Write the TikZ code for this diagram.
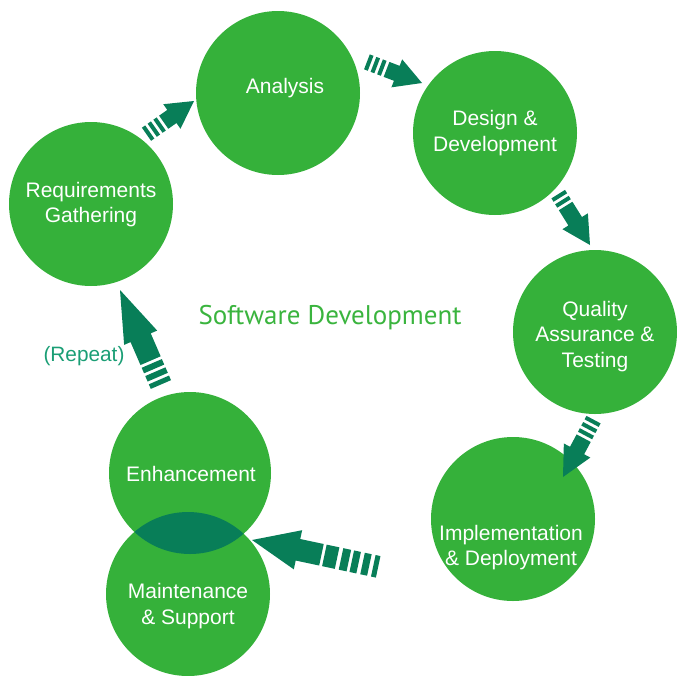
\documentclass[tikz,border=0pt]{standalone}
\usepackage{fontspec}
\setmainfont{Liberation Sans}
\newfontfamily\titlefont{PT Sans}
\definecolor{circgreen}{RGB}{53,177,58}
\definecolor{arrowcol}{RGB}{8,126,88}
\definecolor{repeatcol}{RGB}{26,158,117}
\definecolor{titlegreen}{RGB}{58,180,62}
\newcommand{\flowarrow}[7]{%
  \begin{scope}[shift={#1},rotate=#2]
    \fill[arrowcol] (0,0) -- (-#3,#4/2) -- (-#3,#5/2) -- (-#3-#6,#5/2)
      -- (-#3-#6,-#5/2) -- (-#3,-#5/2) -- (-#3,-#4/2) -- cycle;
    \foreach \sa/\sb in {#7} {
      \fill[arrowcol] (-#3-#6-\sa,-#5/2) rectangle (-#3-#6-\sb,#5/2);
    }
  \end{scope}}
\tikzset{
  lbl/.style={text=white, align=center, font=\fontsize{21}{25.5}\selectfont},
  phase/.style={circle, fill=circgreen, inner sep=0pt, minimum size=#1, lbl},
  phase/.default=164pt
}
\begin{document}
\begin{tikzpicture}[x=1pt,y=-1pt]
\useasboundingbox (0,0) rectangle (677,675);
% circles
\node[phase] (ana) at (278,93) {};
\node[phase] (des) at (495,133) {};
\node[phase] (req) at (91,204) {};
\node[phase] (qa) at (595,332) {};
\node[phase] (imp) at (513,519) {};
\node[phase=162pt] (enh) at (190,473) {};
\node[phase] (mnt) at (188,594) {};
% lens overlap
\begin{scope}
  \clip (enh.center) circle (81);
  \fill[arrowcol] (mnt.center) circle (82);
\end{scope}
% labels
\node[lbl] (anatxt) at (285,88) {Analysis};
\node[lbl] (destxt) at (495,133) {Design \&\\Development};
\node[lbl] (reqtxt) at (91,204.5) {Requirements\\Gathering};
\node[lbl] (qatxt) at (595,336.5) {Quality\\Assurance \&\\Testing};
\node[lbl] (imptxt) at (511,547.5) {Implementation\\\& Deployment};
\node[lbl] (enhtxt) at (191,474) {Enhancement};
\node[lbl] (mnttxt) at (188,606) {Maintenance\\\& Support};
% central texts
\node[text=titlegreen, font=\titlefont\fontsize{27}{30}\selectfont] (title) at (330,318) {Software Development};
\node[text=repeatcol, font=\fontsize{20.8}{24}\selectfont] (rep) at (84,356) {(Repeat)};
% arrows
\flowarrow{(194,101)}{35}{27}{30}{16}{10}{3/7,10/14,17/21}
\flowarrow{(422,83)}{-21}{27}{30}{16}{11}{3/7,10/14,17/21}
\flowarrow{(590,245)}{-58}{28}{30}{16}{18}{3/7,10/14}
\flowarrow{(563,477)}{-118}{30}{30}{16}{14}{3/7,10/14,17/21}
\flowarrow{(252,540)}{168}{47}{40}{22}{24}{3/16,20/28,31/38,42/49,53/58}
\flowarrow{(120,290)}{113.4}{52}{36}{22}{25}{3/9,12/18,21/26}
\end{tikzpicture}
\end{document}
